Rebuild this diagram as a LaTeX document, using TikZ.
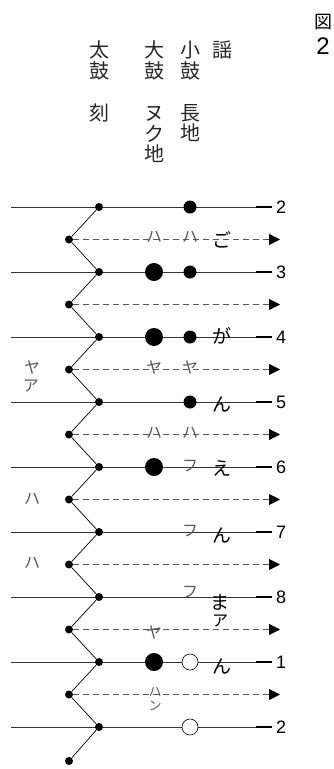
\documentclass[tikz,border=0pt]{standalone}
\usepackage{fontspec}
\setmainfont{Liberation Sans}
\newfontfamily\jp{Noto Sans CJK JP}
\usetikzlibrary{arrows.meta}

\begin{document}
\begin{tikzpicture}[x=1pt,y=-1pt,
  dot/.style={circle,fill,inner sep=0pt,minimum size=#1},dot/.default=8pt,
  ring/.style={circle,draw,fill=white,inner sep=0pt,minimum size=16pt,line width=0.6pt},
  ln/.style={black!80,line width=0.8pt},
  dsh/.style={black!65,line width=0.8pt,dash pattern=on 6pt off 4pt,-{Triangle[length=11pt,width=11pt,black]}},
  tick/.style={line width=2pt},
  num/.style={font=\fontsize{18}{18}\selectfont,inner sep=0pt,anchor=west},
  hdr/.style={font=\jp\fontsize{20}{20.7}\selectfont,text=black!85,align=center,inner sep=0pt,anchor=north},
  kana/.style={font=\jp\fontsize{16}{16}\selectfont,text=black!65,inner sep=0pt},
  uta/.style={font=\jp\fontsize{19}{19}\selectfont,inner sep=0pt}]
\useasboundingbox (0,0) rectangle (334,769);

\node[hdr] (taiko) at (99,41) {太\\鼓\\[21pt]刻};
\node[hdr] (otsu) at (154,41) {大\\鼓\\[21pt]ヌ\\ク\\地};
\node[hdr] (kotsu) at (190,41) {小\\鼓\\[21pt]長\\地};
\node[hdr] (utai) at (222,41) {謡};
\node[font=\jp\fontsize{18}{18}\selectfont,inner sep=0pt] (zu) at (323,22) {図};
\node[font=\fontsize{24}{24}\selectfont,inner sep=0pt] (zunum) at (323,46) {2};

\foreach \lab [count=\i from 0] in {2,3,4,5,6,7,8,1,2}{
  \pgfmathsetmacro\yy{207+65*\i}
  \coordinate (s\i) at (11,\yy);
  \coordinate (e\i) at (256,\yy);
  \coordinate (t\i) at (272,\yy);
  \draw[ln] (s\i) -- (e\i);
  \draw[tick] (e\i) -- (t\i);
  \node[num] (n\i) at (276,\yy) {\lab};
  \node[dot] (r\i) at (99,\yy) {};
}
\foreach \i in {0,...,7}{
  \pgfmathsetmacro\yy{239.5+65*\i}
  \node[dot] (l\i) at (69,\yy) {};
  \coordinate (d\i) at (280,\yy);
  \draw[dsh] (l\i) -- (d\i);
}
\node[dot] (l8) at (69,761) {};
\foreach \i in {0,...,8}{
  \draw[line width=0.7pt] (r\i) -- (l\i);
}
\foreach \i [evaluate=\i as \j using int(\i+1)] in {0,...,7}{
  \draw[line width=0.7pt] (l\i) -- (r\j);
}

\node[dot=13pt] (m0) at (190,207) {};
\node[dot=18pt] (b1) at (154,272) {};
\node[dot=13pt] (m1) at (190,272) {};
\node[dot=18pt] (b2) at (154,337) {};
\node[dot=13pt] (m2) at (190,337) {};
\node[dot=13pt] (m3) at (190,402) {};
\node[dot=18pt] (b4) at (154,467) {};
\node[dot=18pt] (b7) at (154,662) {};
\node[ring] (o7) at (190,662) {};
\node[ring] (o8) at (190,727) {};

\node[kana] (ha1) at (154,237) {ハ};
\node[kana] (ha2) at (190,237) {ハ};
\node[kana] (ya1) at (154,367) {ヤ};
\node[kana] (ya2) at (190,367) {ヤ};
\node[kana] (ya3) at (32,367) {ヤ};
\node[kana] (a1) at (31,386) {ア};
\node[kana] (ha3) at (154,433) {ハ};
\node[kana] (ha4) at (190,433) {ハ};
\node[kana] (fu1) at (190,466) {フ};
\node[kana] (ha5) at (32,499) {ハ};
\node[kana] (fu2) at (190,531) {フ};
\node[kana] (ha6) at (32,563) {ハ};
\node[kana] (fu3) at (190,592) {フ};
\node[kana] (ya4) at (154,632) {ヤ};
\node[kana,font=\jp\fontsize{13}{13}\selectfont] (ha7) at (155,692) {ハ};
\node[kana,font=\jp\fontsize{13}{13}\selectfont] (n7) at (155,706) {ン};

\node[uta] (go) at (222,240) {ご};
\node[uta] (ga) at (222,336) {が};
\node[uta] (un1) at (222,404) {ん};
\node[uta] (e) at (222,468) {え};
\node[uta] (un2) at (222,535) {ん};
\node[uta] (ma) at (220,602) {ま};
\node[kana,text=black] (a2) at (220,621) {ア};
\node[uta] (un3) at (222,666) {ん};
\end{tikzpicture}
\end{document}
